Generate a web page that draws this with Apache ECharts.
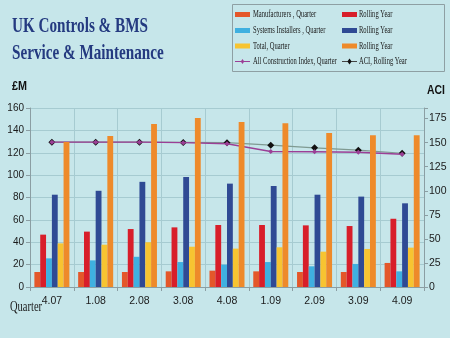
<!DOCTYPE html>
<html>
<head>
<meta charset="utf-8">
<script src="https://cdn.jsdelivr.net/npm/echarts@6/dist/echarts.min.js"></script>
<style>
  html, body { margin: 0; padding: 0; background: #c6e6ea; }
  #chart { width: 450px; height: 338px; }
</style>
</head>
<body>
<div id="chart"></div>
<script>
// Quarter labels along the bottom axis
const quarters = ['4.07', '1.08', '2.08', '3.08', '4.08', '1.09', '2.09', '3.09', '4.09'];

// Output values, £M
const manufacturersQuarter = [13.4, 13.4, 13.4, 14, 14.6, 14, 13.4, 13.4, 21.5];
const manufacturersRolling = [46.8, 49.5, 51.8, 53.3, 55.4, 55.4, 55.1, 54.5, 61];
const installersQuarter = [25.6, 23.8, 27, 22.3, 20, 22.3, 18.5, 20.6, 14];
const installersRolling = [82.5, 86, 94, 98.3, 92.4, 90.3, 82.5, 80.8, 74.8];
const totalQuarter = [39, 37.8, 40, 36, 34.3, 35.5, 31.6, 34, 35.2];
const totalRolling = [129.6, 135, 145.8, 151, 147.5, 146.3, 137.7, 135.6, 135.6];

// All Construction Index (right axis)
const aciQuarter = [150.5, 150.5, 150.5, 150, 148.8, 140.8, 140.5, 140, 138];
const aciRolling = [150.5, 150.5, 150.5, 150.2, 150, 147.4, 144.6, 142.2, 139];

// Left and right axis ticks
const leftTicks = { min: 0, max: 160, step: 20 };
const rightTicks = { min: 0, max: 186, step: 25 };

// Legend captions, left and right columns
const legendLeft = ['Manufacturers , Quarter', 'Systems Installers , Quarter', 'Total, Quarter', 'All Construction Index, Quarter'];
const legendRight = ['Rolling Year', 'Rolling Year', 'Rolling Year', 'ACI, Rolling Year'];

const sans = "'Liberation Sans', Arial, sans-serif";
const serif = "'Liberation Serif', 'DejaVu Serif', serif";
const gridColor = '#a6cbd1';
const axisColor = '#8b9ea3';

const colors = {
  mq: '#e4572a', mr: '#d81e2a',
  iq: '#3fb0e0', ir: '#2f4a94',
  tq: '#f7c431', tr: '#ee8a2a',
  aq: '#9b3f96', ar: '#7f9a92'
};

const chart = echarts.init(document.getElementById('chart'), null, { renderer: 'canvas' });

function bar(name, data, color) {
  return {
    name: name, type: 'bar', data: data, z: 3,
    barGap: 0, barCategoryGap: '20%',
    itemStyle: { color: color }
  };
}

// Legend drawn as a boxed two-column key with condensed serif captions
const rowY = [14.5, 30.5, 46, 61.5];
const colX = [235, 342];
const keyGraphics = [];
function caption(x, y, text) {
  keyGraphics.push({
    type: 'text', x: x, y: y, scaleX: 0.69, z: 10,
    style: { text: text, font: '9.5px ' + serif, fill: '#1a1a1a', textVerticalAlign: 'middle' }
  });
}
function swatch(x, y, color) {
  keyGraphics.push({ type: 'rect', z: 10, shape: { x: x, y: y - 2.5, width: 15, height: 5 }, style: { fill: color } });
}
function keyLine(x, y, lineColor, markColor, r) {
  keyGraphics.push({ type: 'line', z: 10, shape: { x1: x, y1: y, x2: x + 15, y2: y }, style: { stroke: lineColor, lineWidth: 1 } });
  const cx = x + 7.5;
  keyGraphics.push({
    type: 'polygon', z: 11,
    shape: { points: [[cx, y - r], [cx + r * 0.7, y], [cx, y + r], [cx - r * 0.7, y]] },
    style: { fill: markColor }
  });
}
const leftKeys = [colors.mq, colors.iq, colors.tq];
const rightKeys = [colors.mr, colors.ir, colors.tr];
for (let i = 0; i < 3; i++) {
  swatch(colX[0], rowY[i], leftKeys[i]);
  caption(colX[0] + 18, rowY[i], legendLeft[i]);
  swatch(colX[1], rowY[i], rightKeys[i]);
  caption(colX[1] + 17, rowY[i], legendRight[i]);
}
keyLine(colX[0], rowY[3], colors.aq, colors.aq, 2.5);
caption(colX[0] + 18, rowY[3], legendLeft[3]);
keyLine(colX[1], rowY[3], '#444444', '#111111', 3);
caption(colX[1] + 17, rowY[3], legendRight[3]);

chart.setOption({
  backgroundColor: '#c6e6ea',
  animation: false,
  grid: { left: 30, right: 26, top: 108, bottom: 51 },
  xAxis: {
    type: 'category', data: quarters,
    axisLine: { lineStyle: { color: axisColor } },
    axisTick: { show: true, length: 4, lineStyle: { color: axisColor } },
    splitLine: { show: true, lineStyle: { color: gridColor } },
    axisLabel: { fontFamily: sans, fontSize: 10.5, color: '#1a1a1a', margin: 9 }
  },
  yAxis: [
    {
      type: 'value', position: 'left',
      min: leftTicks.min, max: leftTicks.max, interval: leftTicks.step,
      axisLine: { show: true, lineStyle: { color: axisColor } },
      axisTick: { show: true, length: 4, lineStyle: { color: axisColor } },
      splitLine: { lineStyle: { color: gridColor } },
      axisLabel: { fontFamily: sans, fontSize: 10, color: '#1a1a1a', margin: 6 }
    },
    {
      type: 'value', position: 'right',
      min: rightTicks.min, max: rightTicks.max, interval: rightTicks.step,
      axisLine: { show: true, lineStyle: { color: axisColor } },
      axisTick: { show: true, length: 4, lineStyle: { color: axisColor } },
      splitLine: { show: false },
      axisLabel: {
        fontFamily: sans, fontSize: 10.5, color: '#1a1a1a', margin: 5,
        formatter: v => (v % rightTicks.step === 0 ? String(v) : '')
      }
    }
  ],
  series: [
    bar('Manufacturers , Quarter', manufacturersQuarter, colors.mq),
    bar('Manufacturers, Rolling Year', manufacturersRolling, colors.mr),
    bar('Systems Installers , Quarter', installersQuarter, colors.iq),
    bar('Systems Installers, Rolling Year', installersRolling, colors.ir),
    bar('Total, Quarter', totalQuarter, colors.tq),
    bar('Total, Rolling Year', totalRolling, colors.tr),
    {
      name: 'ACI, Rolling Year', type: 'line', yAxisIndex: 1, data: aciRolling, z: 1,
      symbol: 'diamond', symbolSize: 7,
      lineStyle: { color: colors.ar, width: 1.2 },
      itemStyle: { color: '#111111' }
    },
    {
      name: 'All Construction Index, Quarter', type: 'line', yAxisIndex: 1, data: aciQuarter, z: 2,
      symbol: 'diamond', symbolSize: 5,
      lineStyle: { color: colors.aq, width: 1.4 },
      itemStyle: { color: colors.aq }
    }
  ],
  graphic: [
    {
      type: 'text', x: 12, y: 15, scaleX: 0.69,
      style: { text: 'UK Controls & BMS', font: 'bold 22px ' + serif, fill: '#243a80', textVerticalAlign: 'top' }
    },
    {
      type: 'text', x: 12, y: 42, scaleX: 0.69,
      style: { text: 'Service & Maintenance', font: 'bold 22px ' + serif, fill: '#243a80', textVerticalAlign: 'top' }
    },
    {
      type: 'text', x: 12, y: 80, scaleX: 0.83,
      style: { text: '£M', font: 'bold 13px ' + sans, fill: '#111111', textVerticalAlign: 'top' }
    },
    {
      type: 'text', x: 427, y: 84, scaleX: 0.8,
      style: { text: 'ACI', font: 'bold 13px ' + sans, fill: '#111111', textVerticalAlign: 'top' }
    },
    {
      type: 'text', x: 10, y: 300, scaleX: 0.75,
      style: { text: 'Quarter', font: '14px ' + serif, fill: '#1a1a1a', textVerticalAlign: 'top' }
    },
    {
      type: 'rect', shape: { x: 232.5, y: 4.5, width: 212, height: 67 },
      style: { fill: null, stroke: '#8e9fa3', lineWidth: 1 }
    }
  ].concat(keyGraphics)
});
</script>
</body>
</html>
